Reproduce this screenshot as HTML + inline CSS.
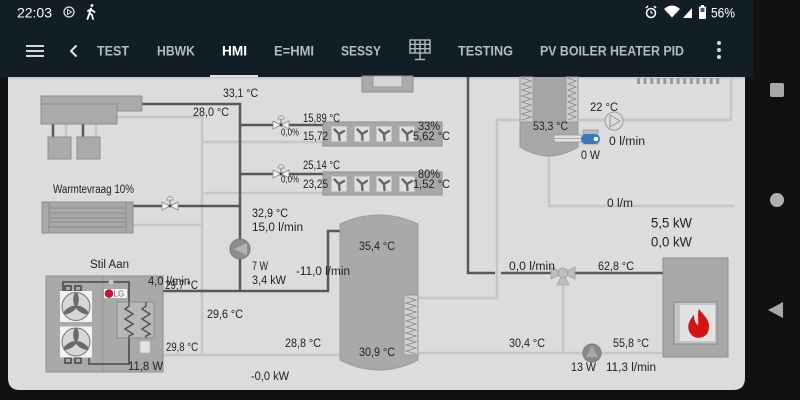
<!DOCTYPE html>
<html><head><meta charset="utf-8">
<style>
html,body{margin:0;padding:0;background:#111;}
svg{display:block;}
text{font-family:"Liberation Sans",Arial,sans-serif;dominant-baseline:central;}
</style></head><body>
<svg width="800" height="400" viewBox="0 0 800 400" xmlns="http://www.w3.org/2000/svg">
<defs>
  <g id="fan">
    <rect x="-7.5" y="-7.5" width="15" height="15" fill="#e0e0e0" stroke="#c8c8c8" stroke-width="0.6"/>
    <g stroke="#666" stroke-width="2.4" stroke-linecap="round">
      <line x1="0" y1="0" x2="-4.5" y2="-4.5"/>
      <line x1="0" y1="0" x2="5" y2="-3"/>
      <line x1="0" y1="0" x2="0.5" y2="6"/>
    </g>
  </g>
  <g id="valve">
    <path d="M-8,-4 L0,0 L-8,4 Z M8,-4 L0,0 L8,4 Z" fill="#f2f2f2" stroke="#888" stroke-width="0.8"/>
    <line x1="0" y1="0" x2="0" y2="-6" stroke="#777" stroke-width="1"/>
    <path d="M-3.2,-6 A3.2,3.2 0 0 1 3.2,-6 Z" fill="#eee" stroke="#888" stroke-width="0.8"/>
    <circle r="1.4" fill="#444"/>
  </g>
  <g id="bigfan">
    <rect x="-16" y="-15.5" width="32" height="31" fill="#f2f2f2"/>
    <circle r="14" fill="#d6d6d6" stroke="#777" stroke-width="1"/>
    <g fill="#6a6a6a">
      <ellipse cx="0" cy="-7" rx="2.8" ry="7"/>
      <ellipse cx="0" cy="-7" rx="2.8" ry="7" transform="rotate(120)"/>
      <ellipse cx="0" cy="-7" rx="2.8" ry="7" transform="rotate(240)"/>
    </g>
  </g>
</defs>

<!-- backgrounds -->
<rect width="800" height="400" fill="#111"/>
<rect x="0" y="0" width="753" height="77" fill="#121e25"/>
<path d="M8,77 H745 V378 Q745,390 733,390 H20 Q8,390 8,378 Z" fill="#dcdcdc"/>
<rect x="8" y="77" width="737" height="2" fill="#cbcbcb"/>

<!-- status bar -->
<text x="17" y="12.5" font-size="14" fill="#fff" textLength="35" lengthAdjust="spacingAndGlyphs">22:03</text>
<circle cx="69" cy="12" r="5" fill="none" stroke="#ddd" stroke-width="1.3"/>
<path d="M67.5,9.5 L71.5,12 L67.5,14.5 Z" fill="none" stroke="#ddd" stroke-width="1"/>
<g stroke="#fff" stroke-width="1.8" fill="none" stroke-linecap="round">
  <circle cx="92" cy="5.5" r="1.4" fill="#fff" stroke="none"/>
  <path d="M91,8.5 L89.5,13 L92,15 L93,19"/>
  <path d="M89.5,13 L87.5,19"/>
  <path d="M91,9 L88,11 M91.5,10 L94.5,12"/>
</g>
<circle cx="651" cy="13" r="4.5" fill="none" stroke="#fff" stroke-width="1.5"/>
<path d="M651,10.5 V13 H653" stroke="#fff" stroke-width="1" fill="none"/>
<path d="M646,8 L648,6 M656,8 L654,6" stroke="#fff" stroke-width="1.5"/>
<path d="M664,9 Q672,2 680,9 L672,17.5 Z" fill="#fff"/>
<path d="M683,18 L692,18 L692,8 Z" fill="#fff"/>
<rect x="699" y="6.5" width="7" height="12.5" rx="1" fill="#fff"/>
<rect x="701" y="5" width="3" height="2" fill="#fff"/>
<rect x="700.5" y="8" width="4" height="4" fill="#555"/>
<text x="711" y="12.5" font-size="14" fill="#fff" textLength="24" lengthAdjust="spacingAndGlyphs">56%</text>

<!-- app bar -->
<g stroke="#d4d8da" stroke-width="2">
  <line x1="26" y1="46" x2="44" y2="46"/>
  <line x1="26" y1="51" x2="44" y2="51"/>
  <line x1="26" y1="56" x2="44" y2="56"/>
</g>
<path d="M76.5,45.5 L71,51 L76.5,56.5" fill="none" stroke="#e6e6e6" stroke-width="2"/>
<g font-size="13.5" font-weight="bold" fill="#b3bcc1">
  <text x="97" y="51" textLength="32" lengthAdjust="spacingAndGlyphs">TEST</text>
  <text x="157" y="51" textLength="38" lengthAdjust="spacingAndGlyphs">HBWK</text>
  <text x="222" y="51" fill="#ffffff" textLength="25" lengthAdjust="spacingAndGlyphs">HMI</text>
  <text x="274" y="51" textLength="40" lengthAdjust="spacingAndGlyphs">E=HMI</text>
  <text x="341" y="51" textLength="40" lengthAdjust="spacingAndGlyphs">SESSY</text>
  <text x="458" y="51" textLength="55" lengthAdjust="spacingAndGlyphs">TESTING</text>
  <text x="540" y="51" textLength="144" lengthAdjust="spacingAndGlyphs">PV BOILER HEATER PID</text>
</g>
<rect x="210" y="75" width="48" height="2" fill="#e0e0e0"/>
<g stroke="#b3bcc1" stroke-width="1.4" fill="none">
  <rect x="410" y="40" width="20" height="13"/>
  <line x1="415" y1="40" x2="415" y2="53"/>
  <line x1="420" y1="40" x2="420" y2="53"/>
  <line x1="425" y1="40" x2="425" y2="53"/>
  <line x1="410" y1="44.3" x2="430" y2="44.3"/>
  <line x1="410" y1="48.7" x2="430" y2="48.7"/>
  <line x1="420" y1="53" x2="420" y2="59"/>
  <line x1="415" y1="59.5" x2="425" y2="59.5"/>
</g>
<g fill="#d4d8da">
  <circle cx="719" cy="43" r="2"/>
  <circle cx="719" cy="50" r="2"/>
  <circle cx="719" cy="57" r="2"/>
</g>

<!-- right nav -->
<rect x="770" y="83" width="14" height="14" rx="2" fill="#a8a8a8"/>
<circle cx="777" cy="200" r="7" fill="#b0b0b0"/>
<path d="M783,302 L768,310 L783,318 Z" fill="#a8a8a8"/>

<!-- light pipes -->
<g stroke="#c6c6c6" stroke-width="2.5" fill="none">
  <path d="M117,117 H202 V355"/>
  <path d="M202,142 H323"/>
  <path d="M202,193 H323"/>
  <path d="M133,225 H202"/>
  <path d="M145,355 H340"/>
  <path d="M418,298 H497 V120 H731 V77"/>
  <path d="M549,150 V206 H734"/>
  <path d="M418,353 H663"/>
  <path d="M563,278 V353"/>
  <path d="M66,124 V137 M96,124 V137"/>
</g>
<!-- dark pipes -->
<g stroke="#585858" stroke-width="2.5" fill="none">
  <path d="M142,104 H240 V290"/>
  <path d="M240,125 H323"/>
  <path d="M240,174 H323"/>
  <path d="M133,206 H240"/>
  <path d="M146,302 V291 H328 V231 H340"/>
  <path d="M468,77 V273 H495"/>
  <path d="M501,273 H663"/>
  <path d="M53,124 V137 M83,124 V137"/>
</g>

<!-- indoor unit top-left -->
<rect x="41" y="96" width="101" height="15" fill="#aaa" stroke="#8e8e8e"/>
<rect x="41" y="104" width="76" height="20" fill="#aaa" stroke="#8e8e8e"/>
<rect x="48" y="137" width="23" height="22" fill="#aaa" stroke="#8e8e8e"/>
<rect x="77" y="137" width="23" height="22" fill="#aaa" stroke="#8e8e8e"/>

<!-- radiator -->
<rect x="42" y="202" width="91" height="31" fill="#a8a8a8" stroke="#8e8e8e"/>
<line x1="49" y1="202" x2="49" y2="233" stroke="#8a8a8a"/>
<line x1="126" y1="202" x2="126" y2="233" stroke="#8a8a8a"/>
<g stroke="#8a8a8a" stroke-width="1">
  <line x1="49" y1="208" x2="126" y2="208"/>
  <line x1="49" y1="213" x2="126" y2="213"/>
  <line x1="49" y1="218" x2="126" y2="218"/>
  <line x1="49" y1="222" x2="126" y2="222"/>
  <line x1="49" y1="227" x2="126" y2="227"/>
</g>
<use href="#valve" x="170" y="206"/>
<use href="#valve" x="281" y="125"/>
<use href="#valve" x="281" y="174"/>

<!-- fan units -->
<rect x="323" y="122" width="119" height="24" fill="#a8a8a8" stroke="#8e8e8e"/>
<rect x="323" y="172" width="119" height="23" fill="#a8a8a8" stroke="#8e8e8e"/>
<use href="#fan" x="339" y="134"/><use href="#fan" x="362" y="134"/><use href="#fan" x="384" y="134"/><use href="#fan" x="407" y="134"/>
<use href="#fan" x="339" y="184"/><use href="#fan" x="362" y="184"/><use href="#fan" x="384" y="184"/><use href="#fan" x="407" y="184"/>

<!-- top center partial device -->
<rect x="362" y="76" width="51" height="16" fill="#aaa" stroke="#8e8e8e"/>
<rect x="373" y="76" width="29" height="11" fill="#d6d6d6" stroke="#999"/>

<!-- top right ticks -->
<g fill="#9a9a9a">
  <rect x="637" y="78" width="3" height="6"/><rect x="643.6" y="78" width="3" height="6"/><rect x="650.2" y="78" width="3" height="6"/>
  <rect x="656.8" y="78" width="3" height="6"/><rect x="663.4" y="78" width="3" height="6"/><rect x="670" y="78" width="3" height="6"/>
  <rect x="676.6" y="78" width="3" height="6"/><rect x="683.2" y="78" width="3" height="6"/><rect x="689.8" y="78" width="3" height="6"/>
  <rect x="696.4" y="78" width="3" height="6"/><rect x="703" y="78" width="3" height="6"/><rect x="709.6" y="78" width="3" height="6"/>
  <rect x="716.2" y="78" width="3" height="6"/>
</g>

<!-- top right tank -->
<rect x="520" y="77" width="13" height="45" fill="#cdcdcd" stroke="#999"/>
<rect x="533" y="77" width="33" height="45" fill="#a5a5a5"/>
<rect x="566" y="77" width="12" height="45" fill="#cdcdcd" stroke="#999"/>
<g stroke="#8a8a8a" stroke-width="0.9" fill="none">
  <polyline points="522,78 531,81 522,84 531,87 522,90 531,93 522,96 531,99 522,102 531,105 522,108 531,111 522,114 531,117 522,120"/>
  <polyline points="568,78 576,81 568,84 576,87 568,90 576,93 568,96 576,99 568,102 576,105 568,108 576,111 568,114 576,117 568,120"/>
</g>
<path d="M520,122 H578 V147 Q549,165 520,147 Z" fill="#a8a8a8" stroke="#999"/>
<rect x="554" y="135" width="29" height="7" fill="#e0e0e0" stroke="#999" stroke-width="0.8"/>
<line x1="554" y1="138.5" x2="583" y2="138.5" stroke="#999" stroke-width="0.8"/>
<rect x="583" y="130" width="15" height="14" fill="#b8b8b8" stroke="#999" stroke-width="0.8"/>
<rect x="581" y="134" width="19" height="10" rx="5" fill="#3a78b8"/>
<circle cx="596" cy="139" r="2.3" fill="#fff"/>
<circle cx="614" cy="121" r="9" fill="#dcdcdc" stroke="#999" stroke-width="1"/>
<path d="M610,115 L620,121 L610,127 Z" fill="none" stroke="#999" stroke-width="1"/>

<!-- central pump -->
<circle cx="240" cy="249" r="10" fill="#8e8e8e" stroke="#777"/>
<path d="M247,243 L234,249 L247,255 Z" fill="#b2b2b2"/>

<!-- main tank -->
<path d="M340,224 Q379,206 418,224 V360 Q379,380 340,360 Z" fill="#a9a9a9" stroke="#9c9c9c"/>
<rect x="404" y="295" width="14" height="60" fill="#d0d0d0" stroke="#999"/>
<polyline points="406,297 416,300 406,303 416,306 406,309 416,312 406,315 416,318 406,321 416,324 406,327 416,330 406,333 416,336 406,339 416,342 406,345 416,348 406,351 416,354" fill="none" stroke="#8a8a8a" stroke-width="0.9"/>

<!-- LG outdoor unit -->
<rect x="46" y="276" width="117" height="96" fill="#a9a9a9" stroke="#909090"/>
<line x1="103" y1="276" x2="103" y2="372" stroke="#989898"/>
<g stroke="#555" stroke-width="1.8" fill="none">
  <path d="M63,291 V282 H129 V302"/>
  <path d="M129,338 V364 H89 V358"/>
  <rect x="65" y="286" width="6" height="5"/><rect x="75" y="286" width="6" height="5"/>
  <rect x="65" y="358" width="6" height="5"/><rect x="75" y="358" width="6" height="5"/>
</g>
<circle cx="111" cy="282" r="2.5" fill="#c8c8c8"/>
<use href="#bigfan" x="76" y="306.5"/>
<use href="#bigfan" x="76" y="342"/>
<rect x="104" y="289" width="23" height="9" fill="#f4f4f4"/>
<circle cx="109" cy="293.5" r="4.3" fill="#c0143c"/>
<text x="113.5" y="293.8" font-size="8" fill="#666">LG</text>
<rect x="117" y="302" width="37" height="36" fill="#b8b8b8" stroke="#8c8c8c"/>
<g stroke="#555" stroke-width="1.5" fill="none">
  <polyline points="129,302 129,306 125,309 133,314 125,319 133,324 125,329 133,334 129,336 129,338"/>
  <polyline points="146,302 146,306 142,309 150,314 142,319 150,324 142,329 150,334 146,336 146,338"/>
</g>
<rect x="140" y="341" width="10" height="12" rx="2" fill="#e4e4e4" stroke="#bbb" stroke-width="0.8"/>

<!-- 3-way valve -->
<g fill="#bdbdbd" stroke="#a0a0a0" stroke-width="0.8">
  <path d="M551,267 L563,273 L551,279 Z"/>
  <path d="M575,267 L563,273 L575,279 Z"/>
  <path d="M563,273 L557,285 L569,285 Z"/>
  <circle cx="563" cy="273" r="5"/>
</g>

<!-- bottom pump -->
<circle cx="592" cy="353" r="9" fill="#8a8a8a" stroke="#777"/>
<path d="M592,346 L586,357 L598,357 Z" fill="#a8a8a8"/>

<!-- stove -->
<rect x="663" y="258" width="65" height="99" fill="#a8a8a8" stroke="#8e8e8e"/>
<rect x="674" y="302" width="43" height="42" fill="#c4c4c4" stroke="#888"/>
<rect x="680" y="305" width="35" height="36" fill="#e2e2e2"/>
<path d="M699,309 C704,316 712,321 708,332 C705,339 694,340 690,333 C686,326 690,319 694,315 C694,321 696,324 698,325 C699,319 697,314 699,309 Z" fill="#d41414"/>

<!-- labels -->
<g font-size="11.5" fill="#222">
  <text x="223" y="94" textLength="35" lengthAdjust="spacingAndGlyphs">33,1 °C</text>
  <text x="193" y="113" textLength="36" lengthAdjust="spacingAndGlyphs">28,0 °C</text>
  <text x="303" y="119" textLength="37" lengthAdjust="spacingAndGlyphs">15,89 °C</text>
  <text x="303" y="137" textLength="25" lengthAdjust="spacingAndGlyphs">15,72</text>
  <text x="418" y="127" textLength="22" lengthAdjust="spacingAndGlyphs">33%</text>
  <text x="413" y="137" textLength="37" lengthAdjust="spacingAndGlyphs">5,62 °C</text>
  <text x="303" y="166" textLength="37" lengthAdjust="spacingAndGlyphs">25,14 °C</text>
  <text x="303" y="185" textLength="25" lengthAdjust="spacingAndGlyphs">23,25</text>
  <text x="418" y="175" textLength="22" lengthAdjust="spacingAndGlyphs">80%</text>
  <text x="413" y="185" textLength="37" lengthAdjust="spacingAndGlyphs">1,52 °C</text>
  <text x="53" y="190" textLength="81" lengthAdjust="spacingAndGlyphs">Warmtevraag 10%</text>
  <text x="252" y="214" textLength="36" lengthAdjust="spacingAndGlyphs">32,9 °C</text>
  <text x="252" y="228" textLength="51" lengthAdjust="spacingAndGlyphs">15,0 l/min</text>
  <text x="252" y="267" textLength="16" lengthAdjust="spacingAndGlyphs">7 W</text>
  <text x="252" y="281" textLength="34" lengthAdjust="spacingAndGlyphs">3,4 kW</text>
  <text x="296" y="272" textLength="54" lengthAdjust="spacingAndGlyphs">-11,0 l/min</text>
  <text x="359" y="247" textLength="36" lengthAdjust="spacingAndGlyphs">35,4 °C</text>
  <text x="359" y="353" textLength="36" lengthAdjust="spacingAndGlyphs">30,9 °C</text>
  <text x="90" y="265" textLength="39" lengthAdjust="spacingAndGlyphs">Stil Aan</text>
  <text x="148" y="282" textLength="42" lengthAdjust="spacingAndGlyphs">4,0 l/min</text>
  <text x="165" y="286" textLength="33" lengthAdjust="spacingAndGlyphs">29,7 °C</text>
  <text x="128" y="367" textLength="35" lengthAdjust="spacingAndGlyphs">11,8 W</text>
  <text x="166" y="348" textLength="32" lengthAdjust="spacingAndGlyphs">29,8 °C</text>
  <text x="207" y="315" textLength="36" lengthAdjust="spacingAndGlyphs">29,6 °C</text>
  <text x="285" y="344" textLength="36" lengthAdjust="spacingAndGlyphs">28,8 °C</text>
  <text x="251" y="377" textLength="38" lengthAdjust="spacingAndGlyphs">-0,0 kW</text>
  <text x="590" y="108" textLength="28" lengthAdjust="spacingAndGlyphs">22 °C</text>
  <text x="533" y="127" textLength="35" lengthAdjust="spacingAndGlyphs">53,3 °C</text>
  <text x="609" y="142" textLength="36" lengthAdjust="spacingAndGlyphs">0 l/min</text>
  <text x="581" y="156" textLength="19" lengthAdjust="spacingAndGlyphs">0 W</text>
  <text x="607" y="204" textLength="26" lengthAdjust="spacingAndGlyphs">0 l/m</text>
  <text x="509" y="267" textLength="46" lengthAdjust="spacingAndGlyphs">0,0 l/min</text>
  <text x="598" y="267" textLength="36" lengthAdjust="spacingAndGlyphs">62,8 °C</text>
  <text x="509" y="344" textLength="36" lengthAdjust="spacingAndGlyphs">30,4 °C</text>
  <text x="613" y="344" textLength="36" lengthAdjust="spacingAndGlyphs">55,8 °C</text>
  <text x="571" y="368" textLength="25" lengthAdjust="spacingAndGlyphs">13 W</text>
  <text x="606" y="368" textLength="50" lengthAdjust="spacingAndGlyphs">11,3 l/min</text>
</g>
<g font-size="10" fill="#222">
  <text x="281" y="133" textLength="18" lengthAdjust="spacingAndGlyphs">0,0%</text>
  <text x="281" y="180" textLength="18" lengthAdjust="spacingAndGlyphs">0,0%</text>
</g>
<g font-size="13.5" fill="#222">
  <text x="651" y="223" textLength="41" lengthAdjust="spacingAndGlyphs">5,5 kW</text>
  <text x="651" y="242" textLength="41" lengthAdjust="spacingAndGlyphs">0,0 kW</text>
</g>
</svg>
</body></html>
